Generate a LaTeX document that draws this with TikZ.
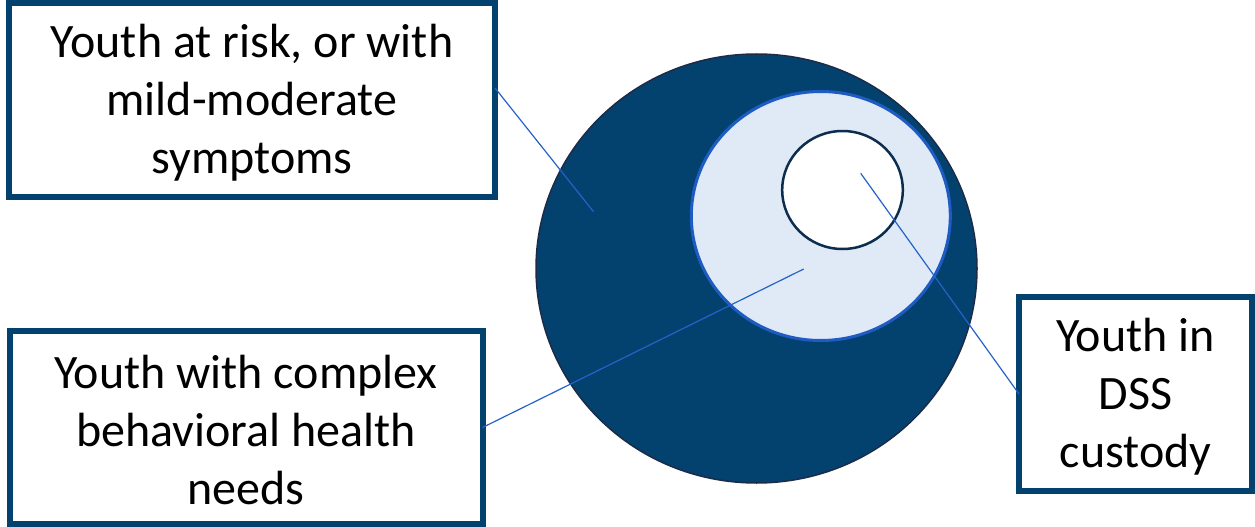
\documentclass[tikz,border=0pt]{standalone}
\usepackage{fontspec}
\setmainfont{Carlito}
\definecolor{navy}{HTML}{03426F}
\definecolor{rimdark}{HTML}{1C2B48}
\definecolor{paleblue}{HTML}{DFEAF6}
\definecolor{rimblue}{HTML}{1E5CC4}
\definecolor{inkdark}{HTML}{0C2D4D}
\definecolor{leader}{HTML}{2462C8}
\begin{document}
\begin{tikzpicture}[x=1pt,y=-1pt,
  labelbox/.style={draw=navy,line width=6pt,fill=white,
    inner sep=0pt,outer sep=0pt},
  labeltext/.style={align=center,inner sep=0pt,yshift=-3pt,
    font=\fontsize{48}{58}\selectfont},
  leaderline/.style={draw=leader,line width=1.2pt}]
\useasboundingbox (0,0) rectangle (1255,527);
% nested population circles
\filldraw[fill=navy,draw=rimdark,line width=1.5pt] (756.5,268.5) ellipse [x radius=220.5,y radius=214.5];
\filldraw[fill=paleblue,draw=rimblue,line width=3pt] (820.8,216) ellipse [x radius=129.5,y radius=124.5];
\filldraw[fill=white,draw=inkdark,line width=2.5pt] (842.5,190) ellipse [x radius=60.3,y radius=59];
% anchor points of the leader lines
\coordinate (outer) at (593.5,211.7);
\coordinate (middle) at (803.7,269);
\coordinate (inner) at (860.7,173.3);
% labels
\node[labelbox,minimum width=486pt,minimum height=194pt,
  label={[labeltext,name=text1]center:Youth at risk, or with\\mild-moderate\\symptoms}]
  (box1) at (252,100) {};
\node[labelbox,minimum width=473pt,minimum height=193pt,
  label={[labeltext,name=text2]center:Youth with complex\\behavioral health\\needs}]
  (box2) at (246,427.5) {};
\node[labelbox,minimum width=233pt,minimum height=194pt,
  label={[labeltext,name=text3]center:Youth in\\DSS\\custody}]
  (box3) at (1135.5,394) {};
% leader lines
\draw[leaderline] ([yshift=12pt]box1.east) -- (outer);
\draw[leaderline] (box2.east) -- (middle);
\draw[leaderline] (box3.west) -- (inner);
\end{tikzpicture}
\end{document}
